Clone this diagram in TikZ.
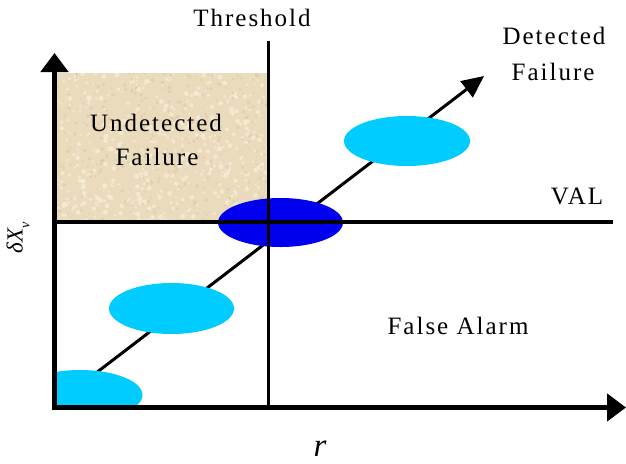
\documentclass[tikz,border=0pt]{standalone}
\usepackage{fontspec}
\setmainfont{Liberation Serif}
\newfontfamily\lsfont[LetterSpace=8]{Liberation Serif}
\usetikzlibrary{arrows.meta,shapes.geometric}
\definecolor{tanbase}{RGB}{234,219,189}
\definecolor{tanlight}{RGB}{247,238,219}
\definecolor{tandark}{RGB}{220,199,163}
\definecolor{cyanfill}{RGB}{0,204,255}
\definecolor{bluefill}{RGB}{0,0,238}
\tikzset{
  axisline/.style={line width=5.5pt,-{Triangle[length=19pt,width=27pt]}},
  diagline/.style={line width=3pt,-{Triangle[length=22pt,width=20pt]}},
  guideline/.style={line width=3pt},
  blob/.style={ellipse,draw=none,inner sep=0pt,minimum width=125pt,minimum height=50pt},
  label/.style={font=\lsfont\fontsize{25}{30}\selectfont,anchor=base,inner sep=0pt},
}
\begin{document}
\begin{tikzpicture}[x=1pt,y=-1pt]
\useasboundingbox (0,0) rectangle (626,463);
% undetected failure region with texture
\fill[tanbase] (57,73) rectangle (270,222);
\begin{scope}
  \clip (57,73) rectangle (270,222);
  \pgfmathsetseed{7}
  \foreach \i in {1,...,500}{
    \fill[tanlight,opacity=0.7] ({57+213*rnd},{73+149*rnd}) circle ({0.8+1.8*rnd});
  }
  \foreach \i in {1,...,350}{
    \fill[tandark,opacity=0.6] ({57+213*rnd},{73+149*rnd}) circle ({0.6+1.4*rnd});
  }
\end{scope}
% diagonal trend
\coordinate (d0) at (62,399);
\coordinate (dtip) at (484,76);
\draw[diagline] (d0) -- (dtip);
% ellipses
\begin{scope}
  \clip (57,300) rectangle (200,405);
  \node[blob,fill=cyanfill] (e1) at (80,395) {};
\end{scope}
\node[blob,fill=cyanfill,minimum height=51pt] (e2) at (171.5,308.5) {};
\node[blob,fill=bluefill,minimum height=49pt] (e3) at (280.5,222.5) {};
\node[blob,fill=cyanfill,minimum width=126pt] (e4) at (407,141) {};
% threshold and VAL lines
\coordinate (thtop) at (268,41);
\coordinate (thbot) at (268,408);
\coordinate (valL) at (54,222);
\coordinate (valR) at (613,222);
\draw[guideline] (thtop) -- (thbot);
\draw[guideline,line width=3.5pt] (valL) -- (valR);
% axes
\coordinate (O) at (54.5,407.5);
\coordinate (ytip) at (54.5,53);
\coordinate (xtip) at (626,407.5);
\draw[axisline] ([yshift=-2.75pt]O) -- (ytip);
\draw[axisline] ([xshift=-2.75pt]O) -- (xtip);
% labels
\node[label] (thr) at (252,27) {Threshold};
\node[label] (und1) at (156,131) {Undetected};
\node[label] (und2) at (157,165) {Failure};
\node[label] (det1) at (554,44) {Detected};
\node[label] (det2) at (553,80) {Failure};
\node[label] (val) at (577,204) {VAL};
\node[label] (fa) at (458,334) {False Alarm};
\node[font=\itshape\fontsize{33}{36}\selectfont,anchor=base,inner sep=0pt] (rlab) at (320,456) {r};
\node[font=\itshape\fontsize{23}{26}\selectfont,rotate=90,inner sep=0pt] (ylab) at (18,238) {δX\raisebox{-0.3em}{\fontsize{14}{16}\selectfont v}};
\end{tikzpicture}
\end{document}
